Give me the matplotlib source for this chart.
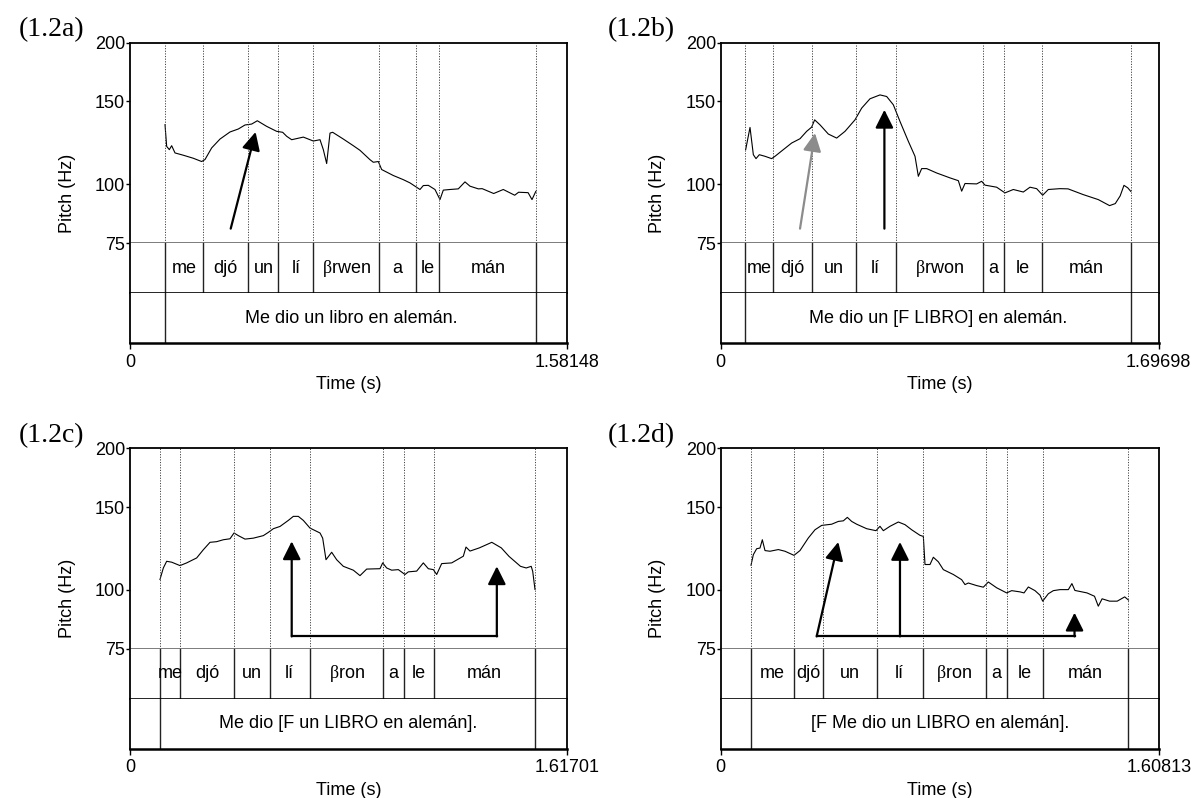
import matplotlib.pyplot as plt

plt.rcParams['font.family'] = ['Liberation Sans', 'DejaVu Sans']
plt.rcParams['mathtext.fontset'] = 'custom'
plt.rcParams['mathtext.rm'] = 'Liberation Serif'

# ---- panel (1.2a) ----
dur_a = 1.58148
time_a = [0.1263, 0.1323, 0.1419, 0.1504, 0.1625, 0.1926, 0.2288, 0.2589, 0.2710,
          0.2951, 0.3253, 0.3614, 0.3916, 0.4157, 0.4398, 0.4603, 0.4941, 0.5303,
          0.5520, 0.5665, 0.5846, 0.6268, 0.6630, 0.6871, 0.6991, 0.7112, 0.7233,
          0.7329, 0.7715, 0.8077, 0.8318, 0.8680, 0.8800, 0.8981, 0.9102, 0.9524,
          0.9886, 1.0127, 1.0488, 1.0609, 1.0790, 1.1031, 1.1212, 1.1332, 1.1574,
          1.1875, 1.2116, 1.2297, 1.2599, 1.2739, 1.3155, 1.3502, 1.3915, 1.4056,
          1.4400, 1.4541, 1.4679]
pitch_a = [133.9, 120.4, 118.5, 120.8, 116.6, 115.3, 113.6, 111.8, 112.9,
           119.5, 124.8, 129.2, 131.1, 133.7, 134.3, 136.5, 132.8, 129.6,
           129.0, 126.5, 124.4, 126.0, 123.6, 124.4, 118.5, 110.7, 128.5,
           129.0, 124.8, 120.8, 118.1, 112.8, 111.4, 111.8, 107.5, 104.4,
           102.3, 100.7, 97.5, 99.4, 99.5, 97.5, 92.8, 97.2, 97.5,
           97.8, 101.2, 99.1, 97.8, 97.9, 95.6, 97.5, 94.8, 96.2,
           96.0, 92.8, 96.6]
bounds_a = [0.1263, 0.2638, 0.4277, 0.5369, 0.6628, 0.9016, 1.0344, 1.1194, 1.4704]
sylls_a = ['me', 'djó', 'un', 'lí', r'$\mathrm{β}$rwen', 'a', 'le', 'mán']
sentence_a = 'Me dio un libro en alemán.'
arrows_a = [(0.364, 80.5, 0.454, 129.2, 'black')]

# ---- panel (1.2b) ----
dur_b = 1.69698
time_b = [0.0964, 0.1132, 0.1261, 0.1364, 0.1493, 0.1713, 0.1971, 0.2100, 0.2423,
          0.2746, 0.3069, 0.3327, 0.3521, 0.3637, 0.3844, 0.4167, 0.4490, 0.4813,
          0.5200, 0.5459, 0.5782, 0.6169, 0.6428, 0.6686, 0.6945, 0.7268, 0.7526,
          0.7655, 0.7784, 0.7978, 0.8366, 0.8882, 0.9205, 0.9334, 0.9463, 0.9915,
          1.0109, 1.0238, 1.0690, 1.1013, 1.1336, 1.1723, 1.1982, 1.2240, 1.2473,
          1.2692, 1.3144, 1.3458, 1.4043, 1.4628, 1.5066, 1.5287, 1.5477, 1.5624,
          1.5771, 1.5888]
pitch_b = [118.5, 132.1, 115.6, 113.4, 115.6, 114.7, 113.4, 114.7, 118.5,
           122.4, 125.0, 129.6, 132.3, 137.1, 133.8, 127.9, 125.4, 129.6,
           137.1, 145.2, 152.0, 154.9, 153.7, 147.6, 136.0, 123.4, 114.7,
           104.0, 108.0, 108.0, 105.7, 103.2, 101.8, 96.7, 100.4, 100.2,
           101.5, 99.6, 98.6, 95.9, 97.5, 96.3, 98.6, 97.9, 94.8,
           97.5, 97.9, 97.8, 95.1, 92.8, 90.1, 91.0, 94.5, 99.5,
           98.3, 96.6]
bounds_b = [0.0938, 0.2034, 0.3546, 0.5227, 0.6777, 1.0149, 1.0986, 1.2435, 1.5884]
sylls_b = ['me', 'djó', 'un', 'lí', r'$\mathrm{β}$rwon', 'a', 'le', 'mán']
sentence_b = 'Me dio un [F LIBRO] en alemán.'
arrows_b = [(0.307, 80.5, 0.365, 128.5, '#8c8c8c'),
            (0.634, 80.5, 0.634, 144.0, 'black')]

# ---- panel (1.2c) ----
dur_c = 1.61701
time_c = [0.1106, 0.1230, 0.1353, 0.1538, 0.1847, 0.2093, 0.2463, 0.2710, 0.2957,
          0.3203, 0.3450, 0.3697, 0.3845, 0.4005, 0.4252, 0.4560, 0.4930, 0.5115,
          0.5300, 0.5547, 0.5855, 0.6040, 0.6225, 0.6410, 0.6657, 0.7027, 0.7126,
          0.7249, 0.7459, 0.7643, 0.7890, 0.8260, 0.8507, 0.8754, 0.9247, 0.9346,
          0.9494, 0.9679, 0.9925, 1.0172, 1.0295, 1.0604, 1.0850, 1.1035, 1.1220,
          1.1344, 1.1529, 1.1899, 1.2330, 1.2429, 1.2577, 1.2922, 1.3384, 1.3736,
          1.4021, 1.4445, 1.4657, 1.4842, 1.4897, 1.4982]
pitch_c = [105.2, 111.3, 115.0, 114.5, 112.6, 114.1, 116.9, 121.7, 126.2,
           126.6, 127.8, 128.4, 132.1, 130.4, 128.2, 128.8, 130.4, 132.5,
           134.9, 136.4, 140.5, 143.3, 143.3, 140.5, 135.3, 132.1, 128.8,
           115.9, 120.2, 115.9, 112.2, 110.1, 107.2, 110.7, 110.9, 114.1,
           111.3, 110.1, 110.4, 107.8, 109.2, 109.6, 114.1, 110.9, 110.4,
           107.8, 113.7, 114.1, 117.9, 123.3, 120.9, 122.8, 126.2, 122.8,
           117.8, 112.2, 111.3, 112.2, 109.5, 100.2]
bounds_c = [0.112, 0.186, 0.385, 0.516, 0.665, 0.937, 1.014, 1.126, 1.498]
sylls_c = ['me', 'djó', 'un', 'lí', r'$\mathrm{β}$ron', 'a', 'le', 'mán']
sentence_c = 'Me dio [F un LIBRO en alemán].'
arrows_c = [(0.598, 79.6, 0.598, 126.8, 'black'),
            (1.357, 79.6, 1.357, 112.2, 'black')]
bracket_c = (0.598, 1.357, 79.6)

# ---- panel (1.2d) ----
dur_d = 1.60813
time_d = [0.1109, 0.1195, 0.1317, 0.1439, 0.1525, 0.1623, 0.1807, 0.2113, 0.2357,
          0.2688, 0.2908, 0.3214, 0.3459, 0.3704, 0.4071, 0.4316, 0.4500, 0.4647,
          0.4806, 0.4990, 0.5357, 0.5699, 0.5846, 0.5969, 0.6214, 0.6520, 0.6764,
          0.7009, 0.7315, 0.7438, 0.7499, 0.7683, 0.7805, 0.7989, 0.8172, 0.8539,
          0.8845, 0.8968, 0.9090, 0.9396, 0.9641, 0.9825, 1.0131, 1.0498, 1.0682,
          1.0988, 1.1135, 1.1294, 1.1539, 1.1723, 1.1820, 1.2028, 1.2212, 1.2457,
          1.2763, 1.2894, 1.3004, 1.3448, 1.3724, 1.3863, 1.4003, 1.4279, 1.4557,
          1.4833, 1.4972]
pitch_d = [112.8, 118.8, 122.3, 122.7, 127.8, 121.2, 120.8, 121.8, 120.8,
           118.4, 121.2, 128.9, 134.2, 137.1, 137.9, 139.8, 140.2, 142.6,
           139.8, 137.9, 134.9, 133.6, 136.5, 133.6, 136.5, 139.4, 137.6,
           134.2, 130.6, 129.9, 113.2, 113.2, 117.3, 114.7, 110.4, 107.8,
           105.1, 102.6, 103.4, 102.1, 101.3, 103.9, 101.0, 98.5, 99.6,
           99.0, 98.5, 101.4, 99.6, 97.4, 94.6, 98.1, 99.6, 100.1,
           100.1, 103.1, 99.7, 98.5, 96.9, 92.3, 95.7, 94.6, 94.6,
           96.6, 95.1]
bounds_d = [0.1116, 0.2689, 0.3768, 0.5718, 0.7415, 0.9735, 1.0496, 1.1822, 1.4972]
sylls_d = ['me', 'djó', 'un', 'lí', r'$\mathrm{β}$ron', 'a', 'le', 'mán']
sentence_d = '[F Me dio un LIBRO en alemán].'
arrows_d = [(0.352, 79.6, 0.4315, 126.4, 'black'),
            (0.658, 79.6, 0.658, 126.4, 'black'),
            (1.299, 79.6, 1.299, 89.4, 'black')]
bracket_d = (0.352, 1.299, 79.6)

panels = [
    ('(1.2a)', dur_a, time_a, pitch_a, bounds_a, sylls_a, sentence_a, arrows_a, None,
     (130.1, 567.2, 42.7, 343.3)),
    ('(1.2b)', dur_b, time_b, pitch_b, bounds_b, sylls_b, sentence_b, arrows_b, None,
     (720.8, 1158.7, 42.7, 343.3)),
    ('(1.2c)', dur_c, time_c, pitch_c, bounds_c, sylls_c, sentence_c, arrows_c, bracket_c,
     (130.1, 567.1, 448.3, 748.7)),
    ('(1.2d)', dur_d, time_d, pitch_d, bounds_d, sylls_d, sentence_d, arrows_d, bracket_d,
     (720.8, 1158.7, 448.3, 748.7)),
]

W, H = 1192, 798
fig = plt.figure(figsize=(W / 100, H / 100), dpi=100)
FS = 13


def rect(left, right, top, bottom):
    return [left / W, 1 - bottom / H, (right - left) / W, (bottom - top) / H]


for name, dur, t, f, bounds, sylls, sentence, arrows, bracket, box in panels:
    left, right, top, bottom = box
    tot = bottom - top
    y75 = top + tot * 2 / 3
    y_t1 = top + tot * 5 / 6

    ax = fig.add_axes(rect(left, right, top, y75))
    t1 = fig.add_axes(rect(left, right, y75, y_t1))
    t2 = fig.add_axes(rect(left, right, y_t1, bottom))

    # pitch pane
    ax.plot(t, f, color='black', lw=0.8)
    ax.set_yscale('log')
    ax.set_ylim(75, 200)
    ax.set_xlim(0, dur)
    ax.set_yticks([75, 100, 150, 200])
    ax.set_yticklabels(['75', '100', '150', '200'])
    ax.yaxis.set_minor_locator(plt.NullLocator())
    ax.set_xticks([])
    ax.tick_params(axis='y', length=3, width=1, pad=0.5, labelsize=FS)
    for b in bounds:
        ax.axvline(b, color='#444444', lw=0.7, ls=(0, (1.2, 1.5)))
    for s in ['top', 'left', 'right']:
        ax.spines[s].set_linewidth(1.3)
    ax.spines['bottom'].set_color('#666666')
    ax.spines['bottom'].set_linewidth(1.2)

    if bracket is not None:
        ax.plot([bracket[0], bracket[1]], [bracket[2], bracket[2]], color='black',
                lw=1.6, solid_capstyle='projecting')
    for x0, y0, x1, y1, c in arrows:
        ax.annotate('', xy=(x1, y1), xytext=(x0, y0),
                    arrowprops=dict(arrowstyle='-|>,head_length=1.1,head_width=0.55',
                                    mutation_scale=10, lw=1.6, color=c,
                                    shrinkA=0, shrinkB=0))

    # syllable tier
    t1.set_xlim(0, dur)
    t1.set_ylim(0, 1)
    t1.set_xticks([])
    t1.set_yticks([])
    for b in bounds:
        t1.axvline(b, color='#222222', lw=1.0)
    for i, s in enumerate(sylls):
        t1.text((bounds[i] + bounds[i + 1]) / 2, 0.5, s, ha='center', va='center',
                fontsize=FS)
    t1.spines['top'].set_visible(False)
    t1.spines['bottom'].set_linewidth(1.2)
    for s in ['left', 'right']:
        t1.spines[s].set_linewidth(1.3)

    # sentence tier
    t2.set_xlim(0, dur)
    t2.set_ylim(0, 1)
    t2.set_yticks([])
    t2.axvline(bounds[0], color='#222222', lw=1.0)
    t2.axvline(bounds[-1], color='#222222', lw=1.0)
    t2.text((bounds[0] + bounds[-1]) / 2, 0.5, sentence, ha='center', va='center',
            fontsize=FS)
    t2.spines['top'].set_visible(False)
    t2.spines['bottom'].set_linewidth(1.8)
    for s in ['left', 'right']:
        t2.spines[s].set_linewidth(1.3)
    t2.set_xticks([0, dur])
    t2.set_xticklabels(['0', f'{dur:.5f}'])
    t2.tick_params(axis='x', length=4, width=1, labelsize=FS)
    t2.set_xlabel('Time (s)', fontsize=FS)

    fig.text((left - 63) / W, 1 - (top + bottom) / 2 / H, 'Pitch (Hz)', rotation=90,
             ha='center', va='center', fontsize=FS)
    fig.text((left - 46) / W, 1 - (top - 13) / H, name, ha='right', va='center',
             fontsize=20, family='Liberation Serif')

fig.savefig('out.png', dpi=100)
